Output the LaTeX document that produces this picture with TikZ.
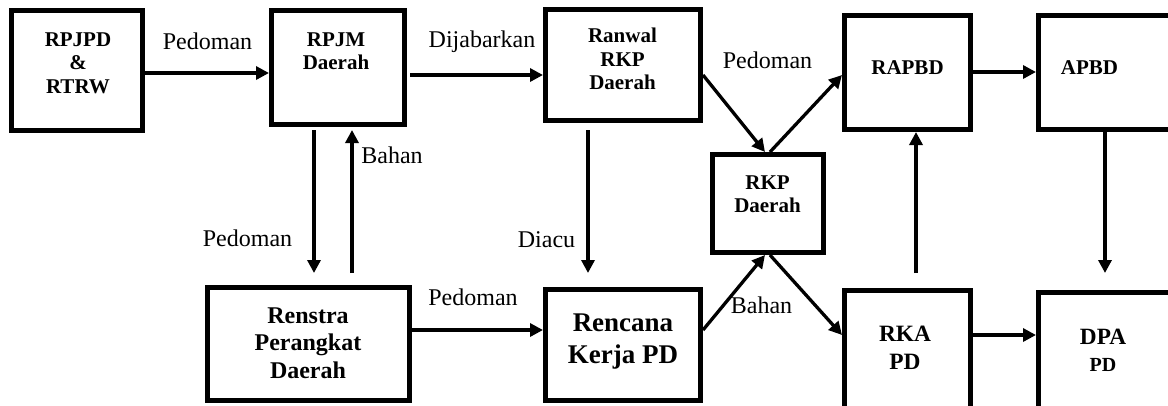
\documentclass[tikz,border=0pt]{standalone}
\usepackage{fontspec}
\setmainfont{Liberation Serif}
\usetikzlibrary{arrows.meta,calc}
\begin{document}
\begin{tikzpicture}[x=1pt,y=-1pt,
  box/.style={draw,line width=5pt,inner sep=0pt},
  arr/.style={line width=3.3pt,-{Triangle[length=13pt,width=13pt]}},
  lbl/.style={font=\fontsize{24}{28}\selectfont,inner sep=0pt},
  bt/.style={font=\bfseries\fontsize{21}{23.5}\selectfont,align=center,inner sep=0pt}]
\useasboundingbox (0,0) rectangle (1168,405);
\clip (0,0) rectangle (1168,405);
% boxes
\node[box,minimum width=131pt,minimum height=120pt] (b1) at (77,70.5) {};
\node[box,minimum width=133pt,minimum height=114pt] (rpjm) at (338,67.5) {};
\node[box,minimum width=155pt,minimum height=111pt] (ranwal) at (623,65) {};
\node[box,minimum width=111pt,minimum height=98pt] (rkp) at (768,203.5) {};
\node[box,minimum width=126pt,minimum height=114pt] (rapbd) at (907.5,72.5) {};
\node[box,minimum width=142pt,minimum height=114pt] (apbd) at (1109.5,72.5) {};
\node[box,minimum width=126pt,minimum height=130pt] (rka) at (907.5,355.5) {};
\node[box,minimum width=142pt,minimum height=130pt] (dpa) at (1109.5,357.5) {};
\node[box,minimum width=202pt,minimum height=113pt] (renstra) at (308.5,344) {};
\node[box,minimum width=155pt,minimum height=111pt] (renc) at (623,345) {};
% box texts
\node[bt] (t1) at (78,63) {RPJPD\\\&\\RTRW};
\node[bt] (t2) at (336,51) {RPJM\\Daerah};
\node[bt] (t3) at (622.5,59) {Ranwal\\RKP\\Daerah};
\node[bt] (t4) at (767.5,194) {RKP\\Daerah};
\node[bt] (t5) at (907.5,68) {RAPBD};
\node[bt] (t6) at (1089.5,68) {APBD};
\node[bt,font=\bfseries\fontsize{23.4}{28}\selectfont] (t7) at (905,348) {RKA\\PD};
\node[bt,font=\bfseries\fontsize{23.3}{27}\selectfont] (t8) at (1103,350) {DPA\\{\fontsize{20}{27}\selectfont PD}};
\node[bt,font=\bfseries\fontsize{24}{27.5}\selectfont] (t9) at (308,343) {Renstra\\Perangkat\\Daerah};
\node[bt,font=\bfseries\fontsize{27}{32}\selectfont] (t10) at (623,342) {Rencana\\Kerja PD};
% labels
\node[lbl] (l1) at (207.5,41) {Pedoman};
\node[lbl] (l2) at (482,42) {Dijabarkan};
\node[lbl] (l3) at (767.5,60) {Pedoman};
\node[lbl] (l4) at (392,155) {Bahan};
\node[lbl] (l5) at (247.5,238) {Pedoman};
\node[lbl] (l6) at (546.5,240) {Diacu};
\node[lbl] (l7) at (473,297) {Pedoman};
\node[lbl] (l8) at (761.5,305) {Bahan};
% arrows
\draw[arr] (b1.east |- 0,73) -- (rpjm.west |- 0,73);
\draw[arr] ($(rpjm.east |- 0,75)+(3,0)$) -- (ranwal.west |- 0,75);
\draw[arr] (ranwal.east |- 0,75) -- ($(rkp.north)+(-3,0)$);
\draw[arr] ($(rkp.north)+(2,0)$) -- (rapbd.west |- 0,75);
\draw[arr] (renc.east |- 0,330) -- ($(rkp.south)+(-3,0)$);
\draw[arr] ($(rkp.south)+(2,0)$) -- (rka.west |- 0,335);
\draw[arr] (rapbd.east |- 0,72) -- (apbd.west |- 0,72);
\draw[arr] (apbd.south -| 1105,0) -- ($(dpa.north -| 1105,0)+(0,-17)$);
\draw[arr] ($(rka.north -| 916,0)+(0,-15)$) -- (rapbd.south -| 916,0);
\draw[arr] (renstra.east |- 0,330) -- (renc.west |- 0,330);
\draw[arr] (rka.east |- 0,335) -- (dpa.west |- 0,335);
\draw[arr] ($(rpjm.south -| 314,0)+(0,3)$) -- ($(renstra.north -| 314,0)+(0,-12)$);
\draw[arr] ($(renstra.north -| 352,0)+(0,-12)$) -- ($(rpjm.south -| 352,0)+(0,3)$);
\draw[arr] ($(ranwal.south -| 588,0)+(0,7)$) -- ($(renc.north -| 588,0)+(0,-14)$);
\end{tikzpicture}
\end{document}
